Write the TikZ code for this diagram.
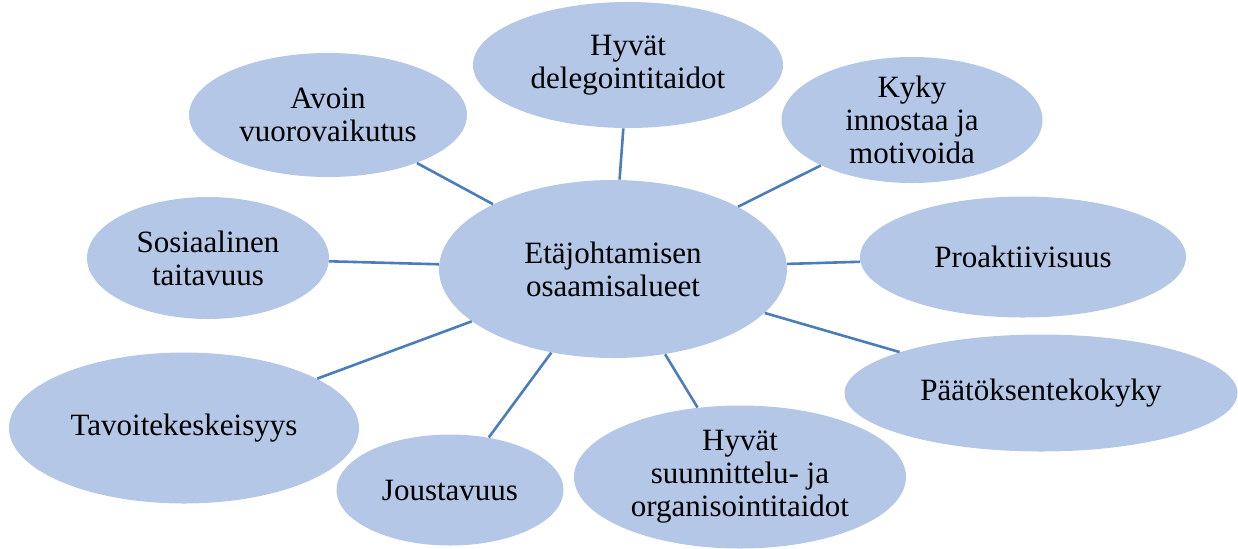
\documentclass[tikz,border=0pt]{standalone}
\usepackage{fontspec}
\setmainfont{Liberation Serif}
\usetikzlibrary{shapes.geometric}
\definecolor{bubble}{HTML}{B4C7E7}
\definecolor{spoke}{HTML}{4A7EBB}
\tikzset{
	bubble/.style={ellipse, fill=bubble, inner sep=0pt, align=center,
		font=\fontsize{15.5}{16.5}\selectfont},
	spoke/.style={draw=spoke, line width=1.3pt}
}
\begin{document}
\begin{tikzpicture}[x=0.5pt, y=-0.5pt]

\useasboundingbox (0,0) rectangle (1238,548);

% centre
\node[bubble, minimum width=174pt, minimum height=89pt] (cen) at (613,269) {Etäjohtamisen\\osaamisalueet};

% satellites
\node[bubble, minimum width=139pt, minimum height=62pt] (avoin) at (328,115) {Avoin\\vuorovaikutus};
\node[bubble, minimum width=155pt, minimum height=63pt] (deleg) at (628,65) {Hyvät\\delegointitaidot};
\node[bubble, minimum width=130.5pt, minimum height=63pt] (kyky) at (912,120) {Kyky\\innostaa ja\\motivoida};
\node[bubble, minimum width=121pt, minimum height=61pt] (sos) at (208,258) {Sosiaalinen\\taitavuus};
\node[bubble, minimum width=163pt, minimum height=60.5pt] (proakt) at (1023,257) {Proaktiivisuus};
\node[bubble, minimum width=175pt, minimum height=75.5pt] (tavoite) at (184,428) {Tavoitekeskeisyys};
\node[bubble, minimum width=196.5pt, minimum height=58.5pt] (paatos) at (1041,393) {Päätöksentekokyky};
\node[bubble, minimum width=113.5pt, minimum height=55.5pt] (jousto) at (450,490) {Joustavuus};
\node[bubble, minimum width=166pt, minimum height=71.5pt] (suunn) at (740,477) {Hyvät\\suunnittelu- ja\\organisointitaidot};

% spokes
\foreach \s in {avoin,deleg,kyky,sos,proakt,tavoite,paatos,jousto,suunn}{
	\draw[spoke] (cen) -- (\s);
}

\end{tikzpicture}
\end{document}
